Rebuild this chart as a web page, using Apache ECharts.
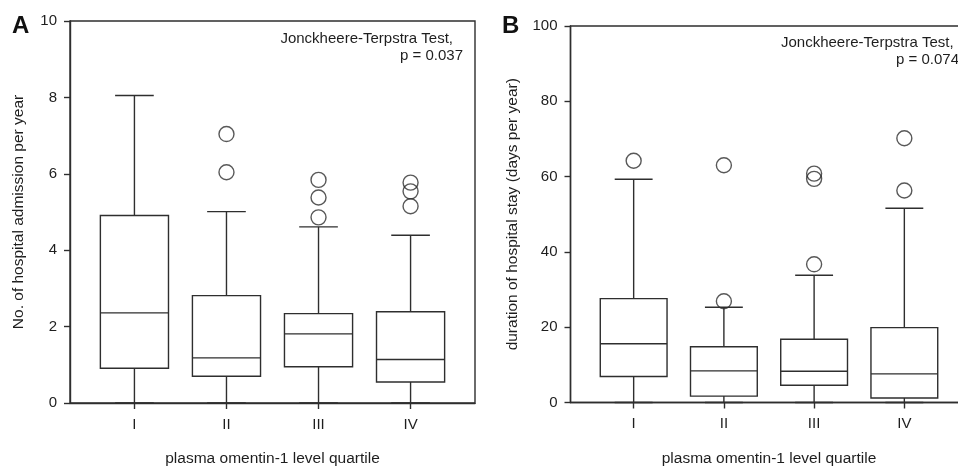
<!DOCTYPE html>
<html>
<head>
<meta charset="utf-8">
<script src="https://cdn.jsdelivr.net/npm/echarts@6/dist/echarts.min.js"></script>
<style>
  html, body { margin: 0; padding: 0; background: #fff; }
  #chart { width: 958px; height: 466px; }
</style>
</head>
<body>
<div id="chart"></div>
<script>
// quartile groups
const quartiles = ['I', 'II', 'III', 'IV']

// A: hospital admissions per year  [min, Q1, median, Q3, max]
const admissionBox = [
  [0, 0.91, 2.36, 4.91, 8.05],
  [0, 0.70, 1.18, 2.81, 5.01],
  [0, 0.95, 1.81, 2.34, 4.61],
  [0, 0.55, 1.14, 2.39, 4.39],
]
// outliers [quartile no., value]
const admissionOutliers = [
  [2, 7.04], [2, 6.04],
  [3, 5.84], [3, 5.38], [3, 4.86],
  [4, 5.77], [4, 5.54], [4, 5.15],
]

// B: duration of hospital stay (days per year)
const stayBox = [
  [0, 6.9, 15.6, 27.6, 59.3],
  [0, 1.7, 8.4, 14.8, 25.3],
  [0, 4.6, 8.3, 16.8, 33.8],
  [0, 1.2, 7.6, 19.9, 51.6],
]
const stayOutliers = [
  [1, 64.2],
  [2, 63.0], [2, 26.9],
  [3, 60.8], [3, 59.4], [3, 36.7],
  [4, 70.2], [4, 56.3],
]

const admissionTicks = [0, 2, 4, 6, 8, 10]
const stayTicks = [0, 20, 40, 60, 80, 100]

const lineColor = '#2e2e2e'
const textColor = '#1e1e1e'
const font = 'Liberation Sans, Arial, sans-serif'

// box + whiskers drawn with the axis scales
function renderBox(params, api) {
  const x = api.value(0)
  const pMin = api.coord([x, api.value(1)])
  const pQ1 = api.coord([x, api.value(2)])
  const pMed = api.coord([x, api.value(3)])
  const pQ3 = api.coord([x, api.value(4)])
  const pMax = api.coord([x, api.value(5)])
  const half = api.size([0.74, 0])[0] / 2
  const cap = api.size([0.42, 0])[0] / 2
  const cx = pMed[0]
  const style = { stroke: lineColor, lineWidth: 1.4, fill: null }
  const line = (x1, y1, x2, y2) => ({ type: 'line', shape: { x1, y1, x2, y2 }, style })
  return {
    type: 'group',
    children: [
      line(cx, pQ3[1], cx, pMax[1]),
      line(cx - cap, pMax[1], cx + cap, pMax[1]),
      line(cx, pQ1[1], cx, pMin[1]),
      line(cx - cap, pMin[1], cx + cap, pMin[1]),
      {
        type: 'rect',
        shape: { x: cx - half, y: pQ3[1], width: half * 2, height: pQ1[1] - pQ3[1] },
        style: { stroke: lineColor, lineWidth: 1.4, fill: '#fff' },
      },
      line(cx - half, pMed[1], cx + half, pMed[1]),
    ],
  }
}

const xAxisBase = (gridIndex) => ({
  type: 'value',
  gridIndex,
  min: 0.3,
  max: 4.7,
  name: 'plasma omentin-1 level quartile',
  nameLocation: 'middle',
  nameGap: 48,
  nameTextStyle: { color: textColor, fontSize: 15.5, fontFamily: font },
  axisLine: { show: true, lineStyle: { color: lineColor, width: 1.4 } },
  axisTick: { show: true, length: 6, customValues: [1, 2, 3, 4], lineStyle: { color: lineColor, width: 1.4 } },
  axisLabel: {
    customValues: [1, 2, 3, 4],
    formatter: (v) => quartiles[Math.round(v) - 1],
    color: textColor,
    fontSize: 15,
    fontFamily: font,
    margin: 14,
  },
  splitLine: { show: false },
})

const yAxisBase = (gridIndex, ticks, name, nameGap) => ({
  type: 'value',
  gridIndex,
  min: ticks[0],
  max: ticks[ticks.length - 1],
  interval: ticks[1] - ticks[0],
  name,
  nameLocation: 'middle',
  nameGap,
  nameTextStyle: { color: textColor, fontSize: 15.5, fontFamily: font },
  axisLine: { show: true, lineStyle: { color: lineColor, width: 1.4 } },
  axisTick: { show: true, length: 6, lineStyle: { color: lineColor, width: 1.4 } },
  axisLabel: { color: textColor, fontSize: 15, fontFamily: font, margin: 13 },
  splitLine: { show: false },
})

const outlierSeries = (idx, data) => ({
  type: 'scatter',
  xAxisIndex: idx,
  yAxisIndex: idx,
  symbol: 'circle',
  symbolSize: 15,
  itemStyle: { color: 'rgba(255,255,255,0)', borderColor: lineColor, borderWidth: 1.4 },
  data,
  z: 5,
})

const annotation = (text, x, y, align) => ({
  type: 'text', x, y,
  style: { text, fontSize: 15, fontFamily: font, fill: textColor, align, verticalAlign: 'middle' },
})

const chart = echarts.init(document.getElementById('chart'))
chart.setOption({
  animation: false,
  backgroundColor: '#fff',
  grid: [
    { left: 70, top: 21, width: 405, height: 382, show: true, borderColor: lineColor, borderWidth: 1.4, outerBoundsMode: 'none' },
    { left: 570.5, top: 26, width: 397, height: 376.5, show: true, borderColor: lineColor, borderWidth: 1.4, outerBoundsMode: 'none' },
  ],
  xAxis: [xAxisBase(0), xAxisBase(1)],
  yAxis: [
    yAxisBase(0, admissionTicks, 'No. of hospital admission per year', 43),
    yAxisBase(1, stayTicks, 'duration of hospital stay (days per year)', 50),
  ],
  series: [
    {
      type: 'custom',
      xAxisIndex: 0,
      yAxisIndex: 0,
      renderItem: renderBox,
      encode: { x: 0, y: [1, 2, 3, 4, 5] },
      data: admissionBox.map((d, i) => [i + 1, ...d]),
    },
    outlierSeries(0, admissionOutliers),
    {
      type: 'custom',
      xAxisIndex: 1,
      yAxisIndex: 1,
      renderItem: renderBox,
      encode: { x: 0, y: [1, 2, 3, 4, 5] },
      data: stayBox.map((d, i) => [i + 1, ...d]),
    },
    outlierSeries(1, stayOutliers),
  ],
  graphic: [
    { type: 'text', left: 12, top: 14, style: { text: 'A', fontSize: 24, fontWeight: 'bold', fontFamily: font, fill: '#111' } },
    { type: 'text', left: 502, top: 14, style: { text: 'B', fontSize: 24, fontWeight: 'bold', fontFamily: font, fill: '#111' } },
    annotation('Jonckheere-Terpstra Test,', 453, 39, 'right'),
    annotation('p = 0.037', 463, 56, 'right'),
    annotation('Jonckheere-Terpstra Test,', 781, 43, 'left'),
    annotation('p = 0.074', 896, 60, 'left'),
  ],
})
</script>
</body>
</html>
